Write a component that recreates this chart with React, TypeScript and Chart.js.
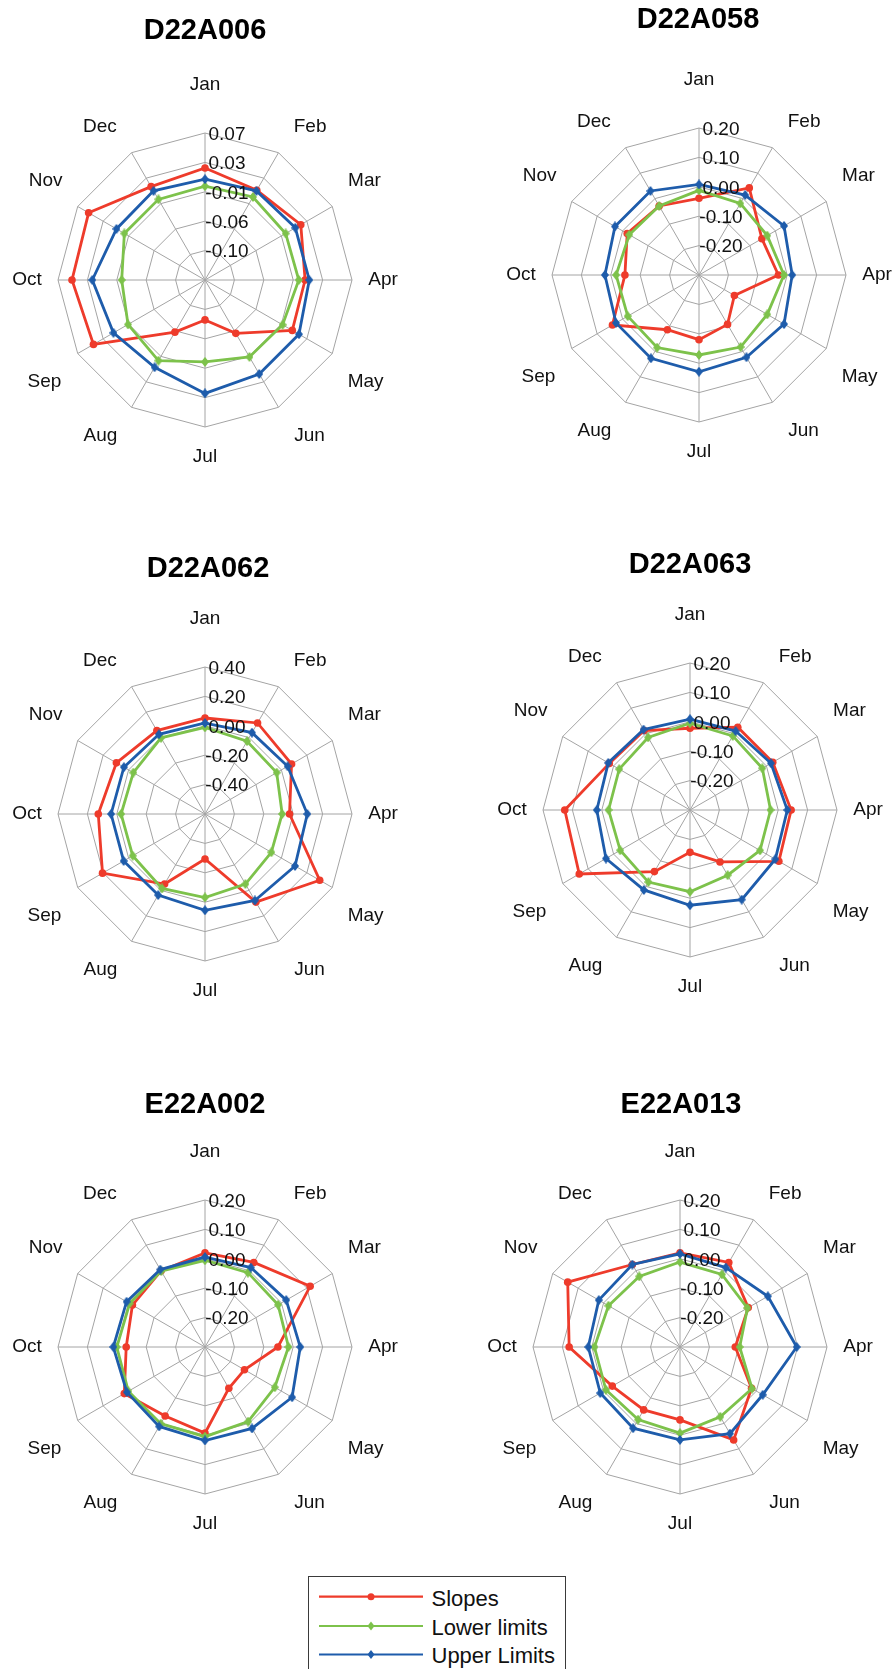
import React, { useEffect, useRef } from 'react';
import { Chart, registerables } from 'chart.js';

Chart.register(...registerables);

// ---- categories and series ----
const MONTHS = ['Jan', 'Feb', 'Mar', 'Apr', 'May', 'Jun', 'Jul', 'Aug', 'Sep', 'Oct', 'Nov', 'Dec'];
const SERIES_NAMES = ['Slopes', 'Lower limits', 'Upper Limits'];

// D22A006
const d22a006Slopes = [0.020, 0.008, 0.018, 0.003, 0.004, -0.052, -0.083, -0.054, 0.044, 0.050, 0.052, 0.014];
const d22a006Lower = [-0.006, -0.003, -0.007, -0.006, -0.012, -0.013, -0.023, -0.007, -0.013, -0.021, -0.007, -0.007];
const d22a006Upper = [0.004, 0.007, 0.009, 0.009, 0.015, 0.015, 0.022, 0.004, 0.011, 0.021, 0.006, 0.007];
const d22a006Ticks = [-0.14, -0.098, -0.056, -0.014, 0.028, 0.07];

// D22A058
const d22a058Slopes = [-0.039, 0.042, -0.053, -0.030, -0.161, -0.106, -0.080, -0.085, 0.040, -0.048, -0.018, -0.029];
const d22a058Lower = [-0.012, -0.019, -0.032, -0.011, -0.032, -0.017, -0.028, -0.015, -0.020, -0.018, -0.026, -0.029];
const d22a058Upper = [0.008, 0.014, 0.034, 0.017, 0.034, 0.023, 0.029, 0.027, 0.026, 0.020, 0.030, 0.030];
const d22a058Ticks = [-0.3, -0.2, -0.1, 0.0, 0.1, 0.2];

// D22A062
const d22a062Slopes = [0.053, 0.115, 0.080, -0.025, 0.301, 0.092, -0.294, -0.050, 0.205, 0.126, 0.096, 0.055];
const d22a062Lower = [-0.011, -0.028, -0.037, -0.075, -0.079, -0.050, -0.032, -0.015, -0.032, -0.029, -0.037, -0.002];
const d22a062Upper = [0.019, 0.039, 0.049, 0.096, 0.107, 0.079, 0.055, 0.037, 0.039, 0.039, 0.037, 0.026];
const d22a062Ticks = [-0.6, -0.4, -0.2, 0.0, 0.2, 0.4];

// D22A063
const d22a063Slopes = [-0.022, 0.025, 0.025, 0.044, 0.049, -0.096, -0.156, -0.058, 0.135, 0.126, 0.017, 0.012];
const d22a063Lower = [-0.005, -0.009, -0.016, -0.026, -0.025, -0.044, -0.022, -0.017, -0.026, -0.023, -0.022, -0.015];
const d22a063Upper = [0.009, 0.010, 0.018, 0.031, 0.035, 0.052, 0.024, 0.014, 0.030, 0.017, 0.021, 0.016];
const d22a063Ticks = [-0.3, -0.2, -0.1, 0.0, 0.1, 0.2];

// E22A002
const e22a002Slopes = [0.020, 0.032, 0.113, -0.052, -0.145, -0.138, -0.007, -0.029, 0.017, -0.032, -0.015, -0.001];
const e22a002Lower = [-0.005, -0.008, -0.013, -0.016, -0.026, -0.007, 0.005, 0.001, 0.001, 0.000, -0.004, -0.002];
const e22a002Upper = [0.006, 0.012, 0.019, 0.024, 0.042, 0.020, 0.018, 0.012, 0.007, 0.012, 0.008, 0.004];
const e22a002Ticks = [-0.3, -0.2, -0.1, 0.0, 0.1, 0.2];

// E22A013
const e22a013Slopes = [0.020, 0.032, -0.032, -0.112, -0.019, 0.065, -0.052, -0.053, -0.034, 0.077, 0.141, 0.024];
const e22a013Lower = [-0.011, -0.015, -0.035, -0.097, -0.017, -0.026, -0.007, -0.015, -0.009, -0.009, -0.019, -0.023];
const e22a013Upper = [0.017, 0.012, 0.045, 0.097, 0.025, 0.040, 0.016, 0.019, 0.013, 0.012, 0.019, 0.024];
const e22a013Ticks = [-0.3, -0.2, -0.1, 0.0, 0.1, 0.2];

// ---- styling ----
const RED = '#EE3B2B';
const GREEN = '#7DC24B';
const BLUE = '#1E5CAB';
const GRID = '#A4A4A4';
const TEXT = '#111111';
const FONT = '"Liberation Sans", Arial, Helvetica, sans-serif';

const PAGE_W = 894;
const PAGE_H = 1669;
const CANVAS_W = 447;
const CANVAS_H = 520;
const RADIUS = 147;

// month label placement: distance from centre and a small turn (degrees) off the spoke
const LABEL_DIST = [195, 186, 188, 178, 190, 188, 177, 188, 190, 178, 188, 186];
const LABEL_TURN = [0, 4.4, -2, 0, 2.3, -3.8, 0, 3.8, -2.3, 0, 2, -4.4];

type Panel = {
  title: string;
  slopes: number[];
  lower: number[];
  upper: number[];
  ticks: number[];
  left: number;
  top: number;
  cx: number;
  cy: number;
  titleX: number;
  titleY: number;
};

const panels: Panel[] = [
  { title: 'D22A006', slopes: d22a006Slopes, lower: d22a006Lower, upper: d22a006Upper, ticks: d22a006Ticks,
    left: 0, top: 0, cx: 205, cy: 280, titleX: 205, titleY: 31 },
  { title: 'D22A058', slopes: d22a058Slopes, lower: d22a058Lower, upper: d22a058Upper, ticks: d22a058Ticks,
    left: 447, top: 0, cx: 699, cy: 275, titleX: 698, titleY: 20 },
  { title: 'D22A062', slopes: d22a062Slopes, lower: d22a062Lower, upper: d22a062Upper, ticks: d22a062Ticks,
    left: 0, top: 520, cx: 205, cy: 814, titleX: 208, titleY: 569 },
  { title: 'D22A063', slopes: d22a063Slopes, lower: d22a063Lower, upper: d22a063Upper, ticks: d22a063Ticks,
    left: 447, top: 520, cx: 690, cy: 810, titleX: 690, titleY: 565 },
  { title: 'E22A002', slopes: e22a002Slopes, lower: e22a002Lower, upper: e22a002Upper, ticks: e22a002Ticks,
    left: 0, top: 1045, cx: 205, cy: 1347, titleX: 205, titleY: 1105 },
  { title: 'E22A013', slopes: e22a013Slopes, lower: e22a013Lower, upper: e22a013Upper, ticks: e22a013Ticks,
    left: 447, top: 1045, cx: 680, cy: 1347, titleX: 681, titleY: 1105 },
];

function makeDiamond(color: string, w = 8, h = 10): HTMLCanvasElement {
  const c = document.createElement('canvas');
  c.width = w;
  c.height = h;
  const g = c.getContext('2d')!;
  g.fillStyle = color;
  g.beginPath();
  g.moveTo(w / 2, 0);
  g.lineTo(w, h / 2);
  g.lineTo(w / 2, h);
  g.lineTo(0, h / 2);
  g.closePath();
  g.fill();
  return c;
}

const formatTick = (v: number) => (Math.abs(v) < 1e-9 ? 0 : v).toFixed(2);

// Draws the panel title, the month names and the axis values.
const panelTextPlugin = {
  id: 'panelText',
  afterDatasetsDraw(chart: any, _args: any, opts: any) {
    const r = chart.scales.r;
    const ctx = chart.ctx as CanvasRenderingContext2D;
    ctx.save();
    ctx.font = `19px ${FONT}`;
    ctx.fillStyle = TEXT;
    ctx.textAlign = 'center';
    ctx.textBaseline = 'middle';
    r.ticks.forEach((t: any, i: number) => {
      if (i === 0) return;
      const d = r.getDistanceFromCenterForValue(t.value);
      ctx.fillText(formatTick(t.value), r.xCenter + 22, r.yCenter - d + 1.5);
    });

    // month names around the web
    chart.data.labels.forEach((label: string, i: number) => {
      const a = r.getIndexAngle(i) - Math.PI / 2 + (LABEL_TURN[i] * Math.PI) / 180;
      const d = LABEL_DIST[i];
      ctx.fillText(label, r.xCenter + Math.cos(a) * d, r.yCenter + Math.sin(a) * d);
    });

    // title
    ctx.font = `bold 29px ${FONT}`;
    ctx.fillStyle = '#000';
    ctx.fillText(opts.title, opts.titleX, opts.titleY);
    ctx.restore();
  },
};

function RadarPanel({ panel }: { panel: Panel }) {
  const ref = useRef<HTMLCanvasElement>(null);

  useEffect(() => {
    const canvas = ref.current;
    if (!canvas) return;
    const relX = panel.cx - panel.left;
    const relY = panel.cy - panel.top;
    const tickValues = panel.ticks;

    const chart = new Chart(canvas, {
      type: 'radar',
      data: {
        labels: MONTHS,
        datasets: [
          {
            label: SERIES_NAMES[0],
            data: panel.slopes,
            borderColor: RED,
            backgroundColor: RED,
            pointBackgroundColor: RED,
            pointBorderColor: RED,
            pointStyle: 'circle',
            pointRadius: 3.8,
            pointBorderWidth: 0,
            fill: false,
            order: 2,
          },
          {
            label: SERIES_NAMES[1],
            data: panel.lower,
            borderColor: GREEN,
            backgroundColor: GREEN,
            pointStyle: makeDiamond(GREEN) as any,
            pointRadius: 4,
            fill: false,
            order: 1,
          },
          {
            label: SERIES_NAMES[2],
            data: panel.upper,
            borderColor: BLUE,
            backgroundColor: BLUE,
            pointStyle: makeDiamond(BLUE) as any,
            pointRadius: 4,
            fill: false,
            order: 0,
          },
        ],
      },
      options: {
        responsive: false,
        maintainAspectRatio: false,
        animation: false,
        events: [],
        layout: {
          padding: {
            left: relX - RADIUS,
            right: CANVAS_W - relX - RADIUS,
            top: relY - RADIUS,
            bottom: CANVAS_H - relY - RADIUS,
          },
        },
        elements: {
          line: { borderWidth: 2.8, tension: 0 },
        },
        scales: {
          r: {
            min: tickValues[0],
            max: tickValues[tickValues.length - 1],
            afterBuildTicks: (scale: any) => {
              scale.ticks = tickValues.map((v) => ({ value: v }));
            },
            ticks: { display: false },
            pointLabels: { display: false },
            grid: { color: GRID, lineWidth: 1 },
            angleLines: { color: GRID, lineWidth: 1 },
          },
        },
        plugins: {
          legend: { display: false },
          tooltip: { enabled: false },
          panelText: { title: panel.title, titleX: panel.titleX - panel.left, titleY: panel.titleY - panel.top },
        } as any,
      },
      plugins: [panelTextPlugin],
    });

    return () => chart.destroy();
  }, [panel]);

  return (
    <canvas
      ref={ref}
      width={CANVAS_W}
      height={CANVAS_H}
      style={{ position: 'absolute', left: panel.left, top: panel.top, width: CANVAS_W, height: CANVAS_H }}
    />
  );
}

const LEGEND_COLORS = [RED, GREEN, BLUE];

function Legend() {
  const rowY = [19.7, 49, 77.5];
  return (
    <div
      style={{
        position: 'absolute',
        left: 308,
        top: 1576,
        width: 258,
        height: 130,
        boxSizing: 'border-box',
        border: '1.3px solid #3a3a3a',
        background: '#fff',
      }}
    >
      <svg width={120} height={100} style={{ position: 'absolute', left: 0, top: 0 }}>
        {SERIES_NAMES.map((name, i) => {
          const y = rowY[i];
          const c = LEGEND_COLORS[i];
          return (
            <g key={name}>
              <line x1={10} x2={114} y1={y} y2={y} stroke={c} strokeWidth={2.2} />
              {i === 0 ? (
                <circle cx={62} cy={y} r={3.5} fill={c} />
              ) : (
                <polygon points={`62,${y - 4.5} 65.5,${y} 62,${y + 4.5} 58.5,${y}`} fill={c} />
              )}
            </g>
          );
        })}
      </svg>
      {SERIES_NAMES.map((name, i) => (
        <div
          key={name}
          style={{
            position: 'absolute',
            left: 122.5,
            top: rowY[i] + 1.5 - 10.7,
            font: `22px ${FONT}`,
            lineHeight: '22px',
            color: TEXT,
            whiteSpace: 'nowrap',
          }}
        >
          {name}
        </div>
      ))}
    </div>
  );
}

export default function App() {
  return (
    <div
      style={{
        position: 'absolute',
        left: 0,
        top: 0,
        width: PAGE_W,
        height: PAGE_H,
        overflow: 'hidden',
        background: '#fff',
      }}
    >
      {panels.map((p) => (
        <RadarPanel key={p.title} panel={p} />
      ))}
      <Legend />
    </div>
  );
}
